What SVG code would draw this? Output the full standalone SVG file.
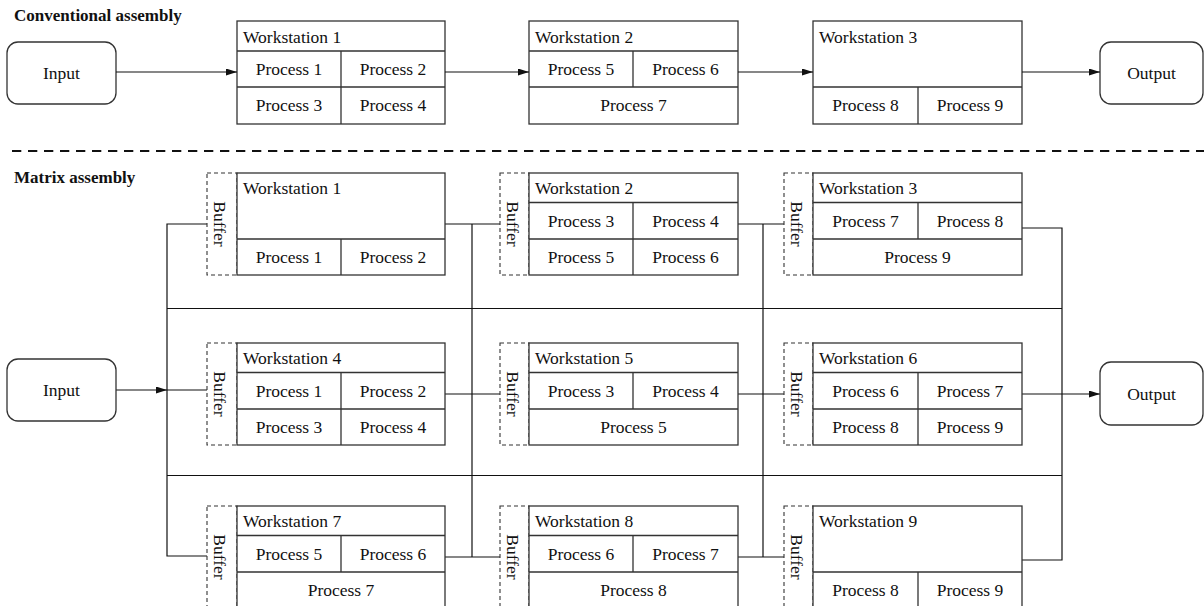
<svg xmlns="http://www.w3.org/2000/svg" width="1204" height="606" viewBox="0 0 1204 606">
  <style>
    text { font-family: "Liberation Serif", serif; font-size: 17.5px; fill: #111; }
    .title { font-weight: bold; font-size: 17px; }
    .c { text-anchor: middle; }
    .box { fill: #fff; stroke: #333; stroke-width: 1.3; }
    .div { stroke: #333; stroke-width: 1.3; fill: none; }
    .buf { fill: #fff; stroke: #333; stroke-width: 1.1; stroke-dasharray: 4 3; }
    .term { fill: #fff; stroke: #333; stroke-width: 1.3; }
    .wire { stroke: #111; stroke-width: 1.2; fill: none; }
    .arrow { stroke: #111; stroke-width: 1.2; fill: none; marker-end: url(#head); }
    .sep { stroke: #111; stroke-width: 2; stroke-dasharray: 9.3 6.7; fill: none; }
  </style>
  <defs>
    <marker id="head" markerUnits="userSpaceOnUse" markerWidth="11" markerHeight="7" refX="11" refY="3.5" orient="auto">
      <path d="M0,0 L11,3.5 L0,7 z" fill="#111"/>
    </marker>
  </defs>

  <rect width="1204" height="606" fill="#fff"/>

  <!-- section titles -->
  <text class="title" x="14" y="21">Conventional assembly</text>
  <text class="title" x="14" y="183">Matrix assembly</text>

  <!-- separator between the two layouts -->
  <g id="separator">
    <path class="sep" d="M12,151 H1204"/>
  </g>

  <!-- ===== Conventional assembly ===== -->
  <g id="c-input">
    <rect class="term" x="7" y="42" width="109" height="62" rx="11"/>
    <text class="c" x="61.5" y="79">Input</text>
  </g>

  <g id="c-ws1">
    <rect class="box" x="237" y="21" width="208" height="103"/>
    <path class="div" d="M237,51 H445 M237,87 H445 M341,51 V124"/>
    <text x="243" y="43">Workstation 1</text>
    <text class="c" x="289" y="75">Process 1</text>
    <text class="c" x="393" y="75">Process 2</text>
    <text class="c" x="289" y="111">Process 3</text>
    <text class="c" x="393" y="111">Process 4</text>
  </g>

  <g id="c-ws2">
    <rect class="box" x="529" y="21" width="209" height="103"/>
    <path class="div" d="M529,51 H738 M529,87 H738 M633,51 V87"/>
    <text x="535" y="43">Workstation 2</text>
    <text class="c" x="581" y="75">Process 5</text>
    <text class="c" x="685.5" y="75">Process 6</text>
    <text class="c" x="633.5" y="111">Process 7</text>
  </g>

  <g id="c-ws3">
    <rect class="box" x="813" y="21" width="209" height="103"/>
    <path class="div" d="M813,87 H1022 M918,87 V124"/>
    <text x="819" y="43">Workstation 3</text>
    <text class="c" x="865.5" y="111">Process 8</text>
    <text class="c" x="970" y="111">Process 9</text>
  </g>

  <g id="c-output">
    <rect class="term" x="1100" y="42" width="103" height="62" rx="11"/>
    <text class="c" x="1151.5" y="79">Output</text>
  </g>

  <g id="c-connectors">
    <path class="arrow" d="M116,72 H237"/>
    <path class="arrow" d="M445,72 H529"/>
    <path class="arrow" d="M738,72 H813"/>
    <path class="arrow" d="M1022,72 H1100"/>
  </g>

  <!-- ===== Matrix assembly ===== -->
  <g id="m-connectors">
    <!-- left feeder bus -->
    <path class="wire" d="M207,224 H167 V556 H207"/>
    <path class="wire" d="M167,390 H207"/>
    <!-- cross links between rows -->
    <path class="wire" d="M167,308.5 H1062 M167,475.5 H1062"/>
    <!-- column 1 to column 2 -->
    <path class="wire" d="M445,224 H500 M472,224 V557 M445,394 H500 M445,557 H500"/>
    <!-- column 2 to column 3 -->
    <path class="wire" d="M738,224 H784 M763,224 V557 M738,394 H784 M738,557 H784"/>
    <!-- right collector bus -->
    <path class="wire" d="M1022,228 H1062 V560 H1022"/>
    <path class="arrow" d="M116,390 H167"/>
    <path class="arrow" d="M1022,394 H1100"/>
  </g>

  <g id="m-input">
    <rect class="term" x="7" y="359" width="109" height="62" rx="11"/>
    <text class="c" x="61.5" y="396">Input</text>
  </g>

  <g id="m-output">
    <rect class="term" x="1100" y="362" width="103" height="63" rx="11"/>
    <text class="c" x="1151.5" y="399.5">Output</text>
  </g>

  <!-- row 1 -->
  <g id="m-ws1">
    <rect class="buf" x="207" y="173" width="30" height="102"/>
    <text class="c" transform="translate(214,224) rotate(90)">Buffer</text>
    <rect class="box" x="237" y="173" width="208" height="102"/>
    <path class="div" d="M237,239 H445 M341,239 V275"/>
    <text x="243" y="194">Workstation 1</text>
    <text class="c" x="289" y="263">Process 1</text>
    <text class="c" x="393" y="263">Process 2</text>
  </g>

  <g id="m-ws2">
    <rect class="buf" x="500" y="173" width="29" height="102"/>
    <text class="c" transform="translate(506.5,224) rotate(90)">Buffer</text>
    <rect class="box" x="529" y="173" width="209" height="102"/>
    <path class="div" d="M529,202.5 H738 M529,239 H738 M633,202.5 V275"/>
    <text x="535" y="194">Workstation 2</text>
    <text class="c" x="581" y="226.5">Process 3</text>
    <text class="c" x="685.5" y="226.5">Process 4</text>
    <text class="c" x="581" y="263">Process 5</text>
    <text class="c" x="685.5" y="263">Process 6</text>
  </g>

  <g id="m-ws3">
    <rect class="buf" x="784" y="173" width="29" height="102"/>
    <text class="c" transform="translate(790.5,224) rotate(90)">Buffer</text>
    <rect class="box" x="813" y="173" width="209" height="102"/>
    <path class="div" d="M813,202.5 H1022 M813,239 H1022 M918,202.5 V239"/>
    <text x="819" y="194">Workstation 3</text>
    <text class="c" x="865.5" y="226.5">Process 7</text>
    <text class="c" x="970" y="226.5">Process 8</text>
    <text class="c" x="917.5" y="263">Process 9</text>
  </g>

  <!-- row 2 -->
  <g id="m-ws4">
    <rect class="buf" x="207" y="343" width="30" height="102"/>
    <text class="c" transform="translate(214,394) rotate(90)">Buffer</text>
    <rect class="box" x="237" y="343" width="208" height="102"/>
    <path class="div" d="M237,372.5 H445 M237,409 H445 M341,372.5 V445"/>
    <text x="243" y="364">Workstation 4</text>
    <text class="c" x="289" y="396.5">Process 1</text>
    <text class="c" x="393" y="396.5">Process 2</text>
    <text class="c" x="289" y="433">Process 3</text>
    <text class="c" x="393" y="433">Process 4</text>
  </g>

  <g id="m-ws5">
    <rect class="buf" x="500" y="343" width="29" height="102"/>
    <text class="c" transform="translate(506.5,394) rotate(90)">Buffer</text>
    <rect class="box" x="529" y="343" width="209" height="102"/>
    <path class="div" d="M529,372.5 H738 M529,409 H738 M633,372.5 V409"/>
    <text x="535" y="364">Workstation 5</text>
    <text class="c" x="581" y="396.5">Process 3</text>
    <text class="c" x="685.5" y="396.5">Process 4</text>
    <text class="c" x="633.5" y="433">Process 5</text>
  </g>

  <g id="m-ws6">
    <rect class="buf" x="784" y="343" width="29" height="102"/>
    <text class="c" transform="translate(790.5,394) rotate(90)">Buffer</text>
    <rect class="box" x="813" y="343" width="209" height="102"/>
    <path class="div" d="M813,372.5 H1022 M813,409 H1022 M918,372.5 V445"/>
    <text x="819" y="364">Workstation 6</text>
    <text class="c" x="865.5" y="396.5">Process 6</text>
    <text class="c" x="970" y="396.5">Process 7</text>
    <text class="c" x="865.5" y="433">Process 8</text>
    <text class="c" x="970" y="433">Process 9</text>
  </g>

  <!-- row 3 (runs past the lower edge) -->
  <g id="m-ws7">
    <rect class="buf" x="207" y="506" width="30" height="102"/>
    <text class="c" transform="translate(214,557) rotate(90)">Buffer</text>
    <rect class="box" x="237" y="506" width="208" height="102"/>
    <path class="div" d="M237,535.5 H445 M237,572 H445 M341,535.5 V572"/>
    <text x="243" y="527">Workstation 7</text>
    <text class="c" x="289" y="559.5">Process 5</text>
    <text class="c" x="393" y="559.5">Process 6</text>
    <text class="c" x="341" y="596">Process 7</text>
  </g>

  <g id="m-ws8">
    <rect class="buf" x="500" y="506" width="29" height="102"/>
    <text class="c" transform="translate(506.5,557) rotate(90)">Buffer</text>
    <rect class="box" x="529" y="506" width="209" height="102"/>
    <path class="div" d="M529,535.5 H738 M529,572 H738 M633,535.5 V572"/>
    <text x="535" y="527">Workstation 8</text>
    <text class="c" x="581" y="559.5">Process 6</text>
    <text class="c" x="685.5" y="559.5">Process 7</text>
    <text class="c" x="633.5" y="596">Process 8</text>
  </g>

  <g id="m-ws9">
    <rect class="buf" x="784" y="506" width="29" height="102"/>
    <text class="c" transform="translate(790.5,557) rotate(90)">Buffer</text>
    <rect class="box" x="813" y="506" width="209" height="102"/>
    <path class="div" d="M813,572 H1022 M918,572 V608"/>
    <text x="819" y="527">Workstation 9</text>
    <text class="c" x="865.5" y="596">Process 8</text>
    <text class="c" x="970" y="596">Process 9</text>
  </g>
</svg>
